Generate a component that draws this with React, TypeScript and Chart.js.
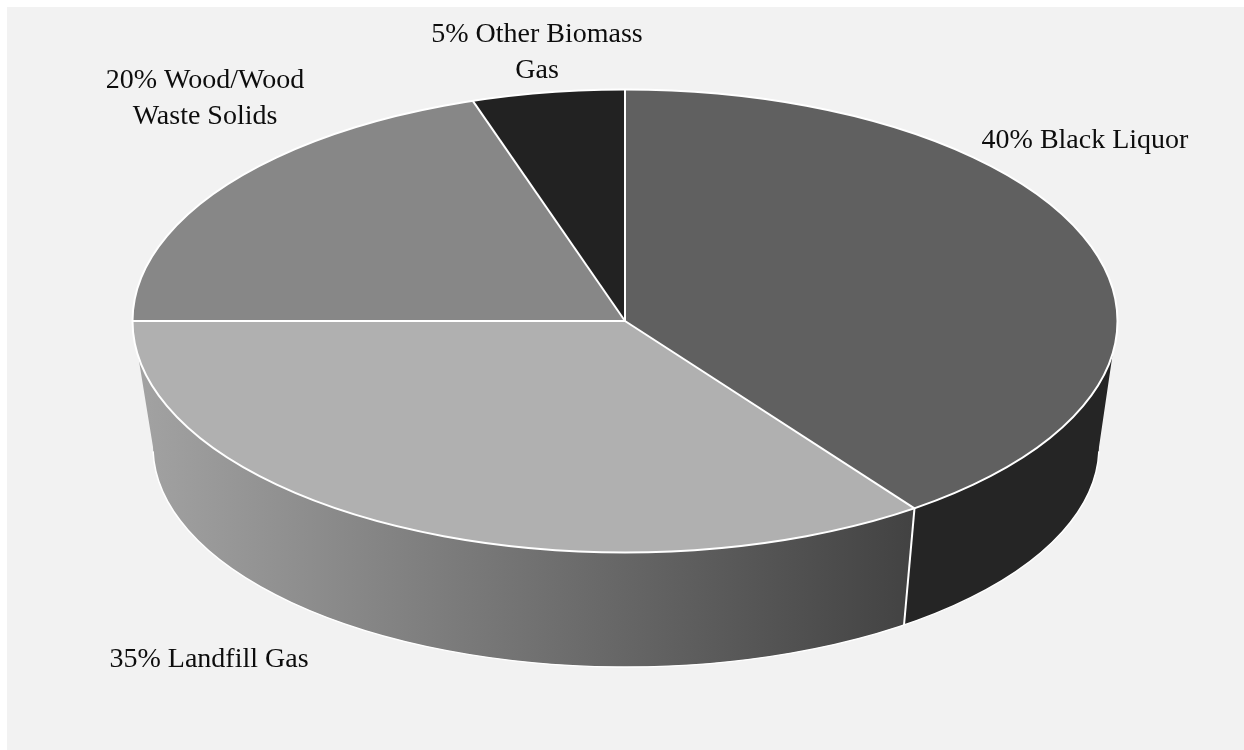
import React, { useEffect, useRef } from 'react';
import { Chart, registerables } from 'chart.js';

Chart.register(...registerables);

// ---- data ----
const categories = ['Black Liquor', 'Landfill Gas', 'Wood/Wood Waste Solids', 'Other Biomass Gas'];
const shares = [40, 35, 20, 5];
const topColors = ['#606060', '#b0b0b0', '#878787', '#222222'];
const sideColorsFrom = ['#252525', '#a3a3a3', '#707070', '#1a1a1a'];
const sideColorsTo = ['#252525', '#424242', '#505050', '#1a1a1a'];

// ---- 3D projection of the pie (screen geometry) ----
const TOP = { cx: 625, cy: 321, rx: 492.5, ry: 231.5 };
const BOTTOM = { cx: 626, cy: 447, rx: 473, ry: 220 };
const LABEL_ANCHORS = [
  { x: 1085, y: 148 },
  { x: 209, y: 667 },
  { x: 205, y: 88 },
  { x: 537, y: 42 },
];
const LABEL_FONT = '28px "Liberation Serif", "Times New Roman", serif';
const LABEL_LINE = 36;
const LABEL_WRAP = 218;

const TWO_PI = Math.PI * 2;
const topPt = (a: number) => [TOP.cx + TOP.rx * Math.cos(a), TOP.cy + TOP.ry * Math.sin(a)];
const botPt = (a: number) => [BOTTOM.cx + BOTTOM.rx * Math.cos(a), BOTTOM.cy + BOTTOM.ry * Math.sin(a)];

function visibleParts(s: number, e: number): [number, number][] {
  const parts: [number, number][] = [];
  for (let k = -1; k <= 1; k++) {
    const lo = Math.max(s, TWO_PI * k);
    const hi = Math.min(e, TWO_PI * k + Math.PI);
    if (hi > lo) parts.push([lo - TWO_PI * k, hi - TWO_PI * k]);
  }
  return parts;
}

const pie3dPlugin = {
  id: 'pie3d',
  beforeDraw(chart: any) {
    const ctx = chart.ctx;
    ctx.save();
    ctx.fillStyle = '#ffffff';
    ctx.fillRect(0, 0, chart.width, chart.height);
    ctx.fillStyle = '#f2f2f2';
    ctx.fillRect(7, 7, chart.width - 7, chart.height - 7);
    ctx.restore();
  },
  beforeDatasetsDraw(chart: any) {
    const ctx = chart.ctx;
    const arcs = chart.getDatasetMeta(0).data;
    // side walls
    arcs.forEach((arc: any, i: number) => {
      const { startAngle, endAngle } = arc.getProps(['startAngle', 'endAngle'], true);
      visibleParts(startAngle, endAngle).forEach(([a1, a2]) => {
        const x1 = Math.min(topPt(a1)[0], topPt(a2)[0]);
        const x2 = Math.max(topPt(a1)[0], topPt(a2)[0]);
        const g = ctx.createLinearGradient(x1, 0, x2, 0);
        g.addColorStop(0, sideColorsFrom[i]);
        g.addColorStop(1, sideColorsTo[i]);
        ctx.save();
        ctx.beginPath();
        ctx.ellipse(TOP.cx, TOP.cy, TOP.rx, TOP.ry, 0, a1, a2, false);
        const b2 = botPt(a2);
        ctx.lineTo(b2[0], b2[1]);
        ctx.ellipse(BOTTOM.cx, BOTTOM.cy, BOTTOM.rx, BOTTOM.ry, 0, a2, a1, true);
        ctx.closePath();
        ctx.fillStyle = g;
        ctx.fill();
        ctx.restore();
      });
    });
    // map the library's circular pie onto the top ellipse
    const { x, y, outerRadius } = arcs[0].getProps(['x', 'y', 'outerRadius'], true);
    ctx.save();
    ctx.translate(TOP.cx, TOP.cy);
    ctx.scale(TOP.rx / outerRadius, TOP.ry / outerRadius);
    ctx.translate(-x, -y);
  },
  afterDatasetsDraw(chart: any) {
    const ctx = chart.ctx;
    ctx.restore();
    const arcs = chart.getDatasetMeta(0).data;
    ctx.save();
    ctx.strokeStyle = '#ffffff';
    ctx.lineWidth = 2;
    ctx.lineJoin = 'round';
    // wall bottom edge
    ctx.beginPath();
    ctx.ellipse(BOTTOM.cx, BOTTOM.cy, BOTTOM.rx, BOTTOM.ry, 0, 0.02, Math.PI - 0.02, false);
    ctx.lineWidth = 1.5;
    ctx.stroke();
    ctx.lineWidth = 2;
    // wall dividers
    arcs.forEach((arc: any) => {
      const { startAngle } = arc.getProps(['startAngle'], true);
      let a = startAngle % TWO_PI;
      if (a < 0) a += TWO_PI;
      if (a > 0.001 && a < Math.PI - 0.001) {
        const t = topPt(a);
        const b = botPt(a);
        ctx.beginPath();
        ctx.moveTo(t[0], t[1]);
        ctx.lineTo(b[0], b[1]);
        ctx.stroke();
      }
    });
    // top rim
    ctx.beginPath();
    ctx.ellipse(TOP.cx, TOP.cy, TOP.rx, TOP.ry, 0, 0, TWO_PI);
    ctx.stroke();
    // radial dividers
    arcs.forEach((arc: any) => {
      const { startAngle } = arc.getProps(['startAngle'], true);
      const t = topPt(startAngle);
      ctx.beginPath();
      ctx.moveTo(TOP.cx, TOP.cy);
      ctx.lineTo(t[0], t[1]);
      ctx.stroke();
    });
    ctx.restore();
  },
  afterDraw(chart: any) {
    const ctx = chart.ctx;
    const labels = chart.data.labels as string[];
    const values = chart.data.datasets[0].data as number[];
    const total = values.reduce((s, v) => s + v, 0);
    ctx.save();
    ctx.font = LABEL_FONT;
    ctx.fillStyle = '#0d0d0d';
    ctx.textAlign = 'center';
    ctx.textBaseline = 'alphabetic';
    labels.forEach((lab, i) => {
      const pct = Math.round((values[i] / total) * 100);
      const words = `${pct}% ${lab}`.split(' ');
      const lines: string[] = [];
      let cur = '';
      words.forEach((w) => {
        const test = cur ? cur + ' ' + w : w;
        if (cur && ctx.measureText(test).width > LABEL_WRAP) {
          lines.push(cur);
          cur = w;
        } else cur = test;
      });
      if (cur) lines.push(cur);
      const anchor = LABEL_ANCHORS[i];
      lines.forEach((ln, j) => ctx.fillText(ln, anchor.x, anchor.y + j * LABEL_LINE));
    });
    ctx.restore();
  },
};

export default function App() {
  const canvasRef = useRef<HTMLCanvasElement | null>(null);

  useEffect(() => {
    if (!canvasRef.current) return;
    const chart = new Chart(canvasRef.current, {
      type: 'pie',
      data: {
        labels: categories,
        datasets: [
          {
            data: shares,
            backgroundColor: topColors,
            borderWidth: 0,
            borderColor: '#ffffff',
          },
        ],
      },
      options: {
        responsive: false,
        animation: false,
        events: [],
        layout: { padding: 0 },
        plugins: {
          legend: { display: false },
          tooltip: { enabled: false },
        },
      },
      plugins: [pie3dPlugin],
    });
    return () => chart.destroy();
  }, []);

  return (
    <div style={{ position: 'absolute', left: 0, top: 0, width: 1244, height: 750 }}>
      <canvas ref={canvasRef} width={1244} height={750} style={{ display: 'block' }} />
    </div>
  );
}
